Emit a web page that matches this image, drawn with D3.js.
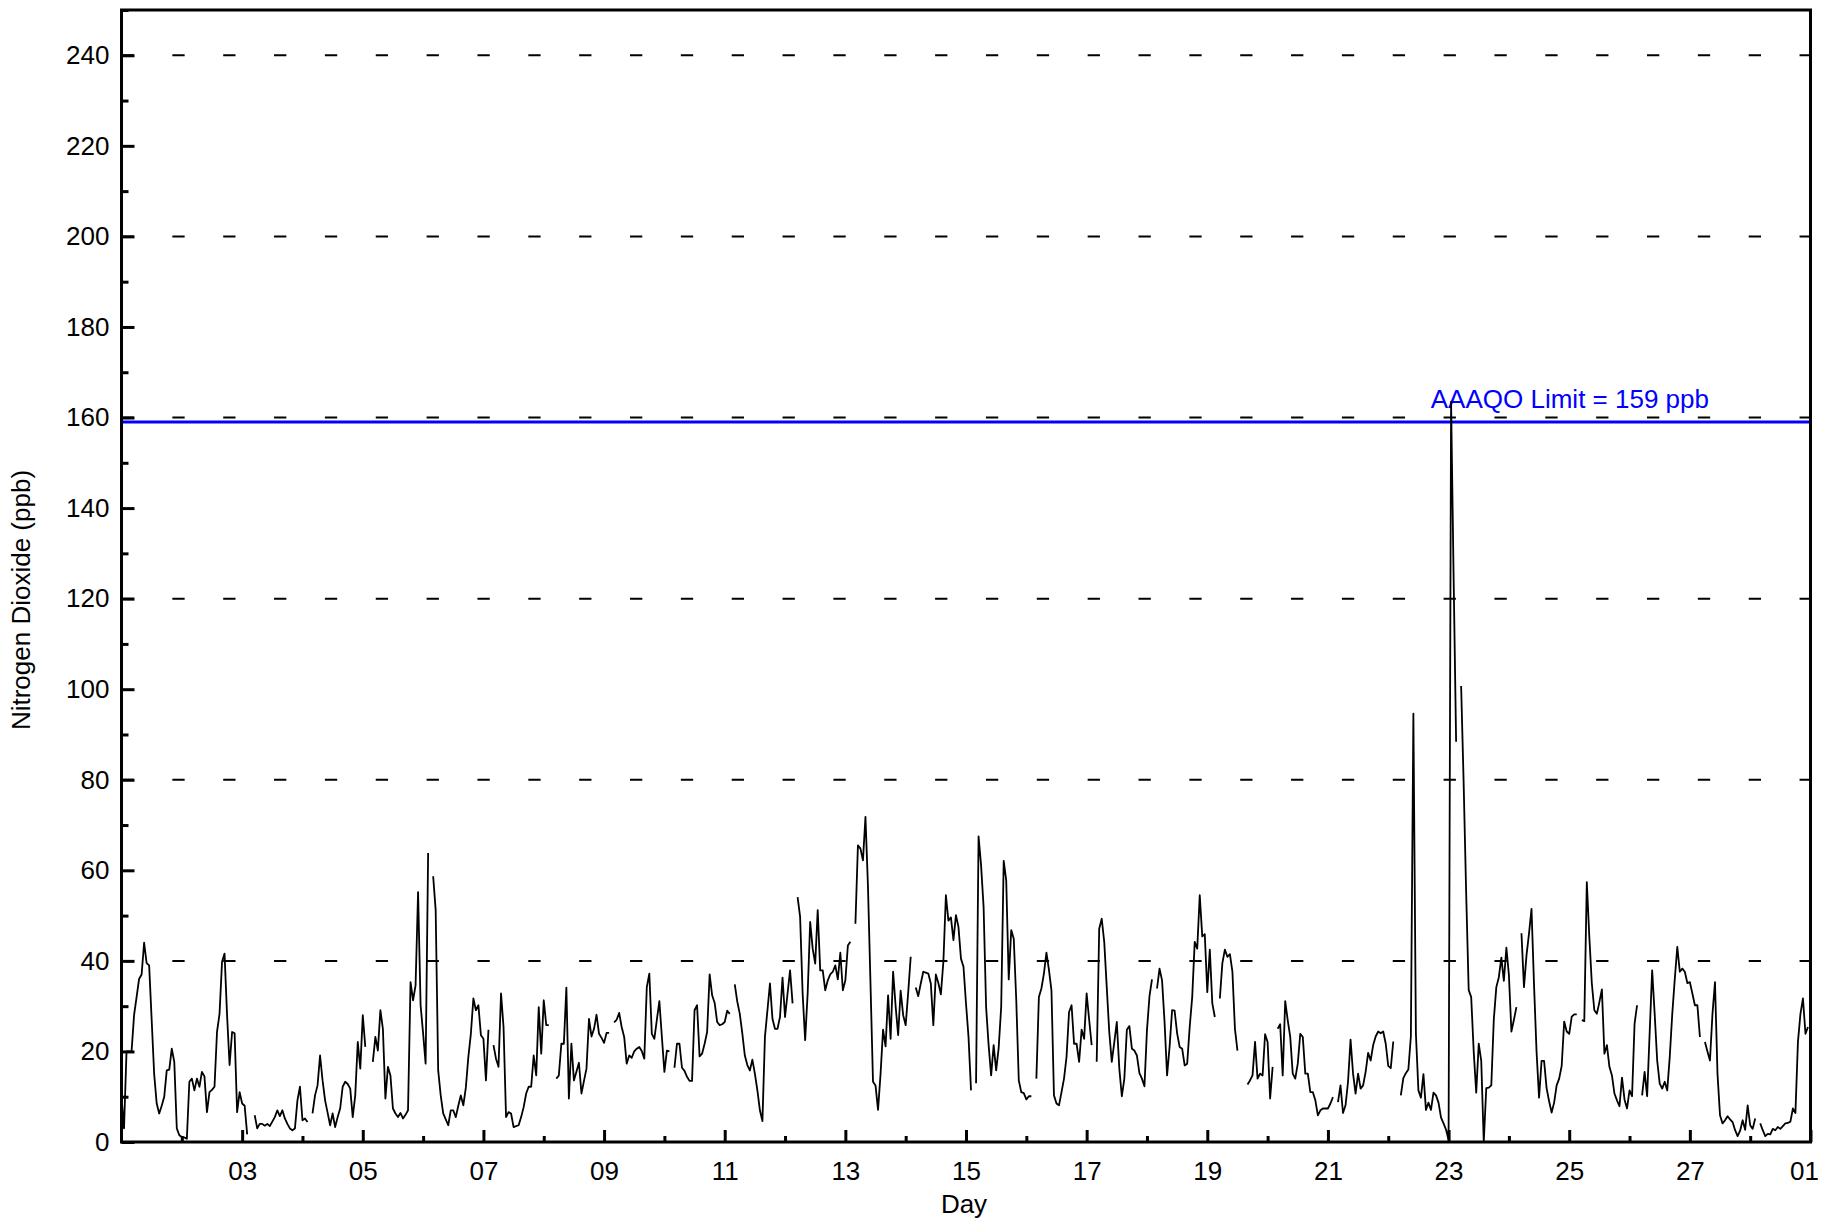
<!DOCTYPE html>
<html>
<head>
<meta charset="utf-8">
<script src="https://cdn.jsdelivr.net/npm/d3@7"></script>
<style>
  html, body { margin: 0; padding: 0; background: #ffffff; }
  svg { display: block; }
  text { font-family: "Liberation Sans", Arial, sans-serif; fill: #000; }
</style>
</head>
<body>
<svg id="chart" width="1821" height="1218"></svg>
<script>
// ---------------- DATA (hourly NO2, ppb; null = missing) ----------------
const startDate = Date.UTC(2019, 1, 1, 0);   // 01 Feb 00:00
const endDate   = Date.UTC(2019, 2, 1, 0);   // 01 Mar 00:00

const no2Week1 = [
  // Day 01
  10, 3, 20, 20, 20, 28, 32, 36, 37, 44, 39.5, 39, 27, 15, 8.5, 6.3, 8, 10, 15.8, 16, 20.6, 17.7, 3, 1.5,
  // Day 02
  1.1, 1, 0.7, 13.3, 14, 11.4, 14, 12.2, 15.5, 14.5, 6.6, 11, 11.5, 12.2, 24.3, 28.3, 39.8, 41.6, 28, 17, 24.3, 24, 6.6, 11,
  // Day 03
  8.5, 8, 1.7, null, null, 5.9, 3, 4, 4, 3.6, 4, 3.5, 4.5, 5.5, 7, 5.7, 7, 5.2, 4, 3, 2.6, 3, 9.2, 12.2,
  // Day 04
  4.8, 5.2, 4.4, null, 6.3, 10.3, 12.5, 19.1, 13.6, 9.2, 6.5, 3.7, 6.3, 3.3, 5.5, 7.4, 12.2, 13.3, 12.8, 11.8, 5.5, 10.3, 22.1, 16.2,
  // Day 05
  28, 21, null, null, 17.7, 23.2, 20.2, 29.1, 25, 9.6, 16.6, 14.7, 7.4, 6.3, 5.5, 6.4, 5.2, 6, 7, 35.3, 31.3, 34.6, 55.2, 30.2,
  // Day 06
  24, 17.3, 63.8, null, 58.7, 51.2, 15.8, 10.3, 6.3, 5, 3.7, 7, 7, 5.5, 8, 10.3, 8.1, 12, 18.8, 23.9, 31.7, 29.1, 30.2, 23.6,
  // Day 07
  22.8, 13.6, 24.8, null, 21.4, 18.4, 16.6, 32.8, 25.4, 5.5, 6.6, 6.3, 3.3, 3.5, 3.7, 5.5, 7.7, 10.7, 12.2, 12.2, 19.1, 14.7, 29.8, 19.5
];
const no2Week2 = [
  // Day 08
  31.3, 25.8, 25.8, null, null, 14, 14.7, 21.7, 21.7, 34.1, 9.6, 21.7, 13.6, 15.5, 17.5, 10.7, 13.5, 16.2, 27.2, 23.3, 25, 28.1, 23.9, 23,
  // Day 09
  21.9, 24.1, 24.1, null, 26.4, 27, 28.5, 25.4, 23.2, 17.3, 19.1, 18.6, 20, 20.6, 21, 20.1, 18.4, 34.2, 37.2, 23.9, 22.8, 27, 31.1, 23.2,
  // Day 10
  15.5, 20.2, 20, null, 16.4, 21.7, 21.7, 16.4, 15.7, 14.4, 13.5, 13.5, 29.1, 30.2, 18.9, 19.5, 21.7, 24.3, 37, 32.4, 30.7, 26.5, 25.8, 26,
  // Day 11
  26.5, 29, 28.3, null, 34.8, 31, 28.3, 24, 19.1, 17, 15.8, 18.2, 15.1, 11.4, 7, 4.6, 23.2, 29.1, 35, 27.2, 25, 25, 27.6, 36.3,
  // Day 12
  27.6, 32.8, 37.9, 30.6, null, 54.1, 49.7, 32.8, 22.5, 32.8, 48.6, 42.7, 39.4, 51.2, 37.9, 37.9, 33.5, 35.7, 37, 37.6, 39, 35.9, 41.8, 33.5,
  // Day 13
  35.7, 43.4, 44.2, null, 48.2, 65.5, 64.8, 62.2, 71.8, 56.3, 35, 13.3, 12.5, 7.1, 15, 24.8, 21.1, 32.4, 22.8, 37.6, 30, 23.6, 33.4, 28,
  // Day 14
  25.8, 33, 40.9, null, 34.1, 32.2, 35, 37.6, 37.4, 37.2, 35, 25.8, 37, 35.1, 32.6, 39.8, 54.5, 48.9, 49.6, 44.6, 50.1, 47.5, 40.5, 38.7
];
const no2Week3 = [
  // Day 15
  30.6, 23.2, 11.4, null, 13, 67.5, 61.1, 51.9, 29.8, 21.4, 14.7, 21.4, 15.8, 20.8, 29.8, 62.1, 57.8, 35.9, 46.8, 44.9, 31.3, 13.6, 11, 10.8,
  // Day 16
  9.4, 10.1, 10.1, null, 14, 32, 33.9, 37.2, 41.8, 38, 33.5, 10.3, 8.5, 8.1, 11, 14, 18.8, 28.7, 30.2, 21.7, 21.7, 17.7, 24.8, 22.8,
  // Day 17
  32.8, 27, 21.4, null, 17.7, 47.1, 49.3, 44.2, 34.2, 24.3, 17.7, 22, 26.5, 16.2, 10.1, 14, 24.8, 25.6, 20.6, 20.2, 19.1, 15.2, 14, 12.3,
  // Day 18
  24.7, 32.2, 35.9, null, 33.9, 38.3, 35.7, 26.5, 14.7, 21, 29.1, 29, 24, 21, 20.6, 16.9, 17.3, 25.4, 32, 44.2, 42.7, 54.5, 45.4, 45.9,
  // Day 19
  33.1, 42.5, 30.6, 27.6, null, 31.7, 39.5, 42.5, 40.9, 41.5, 37.6, 25, 20.2, null, null, null, 12.7, 13.6, 14.7, 22.1, 14, 15.1, 14.7, 23.8,
  // Day 20
  22.1, 9.6, 16.6, null, 25, 26, 14.7, 31.1, 26.9, 23.2, 15.1, 14, 17.3, 23.9, 23.2, 15.1, 15.1, 11, 11, 9.2, 5.9, 7, 7.4, 7.4,
  // Day 21
  7.4, 8.5, 9.9, null, 8.8, 12.5, 6.4, 8.1, 13.3, 22.6, 15.1, 10.7, 15.1, 11.8, 12.5, 15.5, 19.7, 18, 21.4, 23.3, 24.4, 24, 24.4, 21.7
];
const no2Week4 = [
  // Day 22
  16.8, 16.3, 22.2, null, null, 10.3, 14.1, 15.2, 16, 23.3, 94.6, 23.9, 11.4, 9.8, 15, 7.1, 8.7, 7.1, 10.9, 10.3, 8.7, 5.4, 4.1, 2.7,
  // Day 23
  0.5, 163.5, 125, 88.4, null, 100.7, 79.2, 55, 33.6, 32, 20, 10.9, 21.7, 17.9, 0, 11.9, 12, 12.5, 27.1, 34.2, 36.4, 40.7, 35.6, 42.9,
  // Day 24
  36.9, 24.4, 27, 29.8, null, 46.1, 34.2, 41.2, 46, 51.5, 34.7, 20, 9.8, 17.9, 17.9, 11.9, 9, 6.5, 8.7, 12.5, 14, 16.8, 26.6, 24.4,
  // Day 25
  23.9, 27.7, 28.2, 28.2, null, 26.9, 26.7, 57.4, 45.3, 35, 29.1, 28.3, 30.9, 33.7, 19.5, 21.4, 16.6, 14.7, 10.7, 9.2, 7.9, 14.2, 9.4, 7.4,
  // Day 26
  11.4, 10.1, 26.1, 30.2, null, 10.3, 15.5, 10.1, 24, 37.9, 28.3, 18, 12.9, 11.8, 13.3, 11.4, 18.8, 28.3, 36, 43.1, 37.6, 38.3, 37.6, 35.1,
  // Day 27
  35.3, 32.8, 30.2, 30.2, 23.2, null, 22.1, 20, 18, 28.3, 35.3, 15, 5.9, 4.1, 4.8, 5.7, 5, 4.4, 2.6, 1.3, 2.5, 4.8, 2.7, 8.1,
  // Day 28
  3.7, 2.9, 5.2, null, 4.1, 2.6, 1.3, 1.8, 1.7, 2.9, 2.6, 3.3, 2.9, 3.5, 4.1, 4.2, 4.5, 7.4, 6.4, 22.1, 28.3, 31.7, 23.9, 25.4
];

const yMajorTicks = [0, 20, 40, 60, 80, 100, 120, 140, 160, 180, 200, 220, 240];
const yMinorTicks = [10, 30, 50, 70, 90, 110, 130, 150, 170, 190, 210, 230, 250];
const gridValues  = [40, 80, 120, 160, 200, 240];
const xTickLabels = ["03", "05", "07", "09", "11", "13", "15", "17", "19", "21", "23", "25", "27", "01"];
const limitValue  = 159;
const limitLabel  = "AAAQO Limit = 159 ppb";
const yTitle = "Nitrogen Dioxide (ppb)";
const xTitle = "Day";

// ---------------- LAYOUT ----------------
const plotL = 121.5, plotR = 1810.5, plotT = 10, plotB = 1142;
const FS = 26;

const svg = d3.select("#chart");

const hourMs = 3600 * 1000;
const dayMs = 24 * hourMs;
const values = [].concat(no2Week1, no2Week2, no2Week3, no2Week4);
const series = values.map((v, i) => ({ t: new Date(startDate + i * hourMs), v }));

const x = d3.scaleUtc().domain([new Date(startDate), new Date(endDate)]).range([plotL, plotR]);
const y = d3.scaleLinear().domain([0, 250]).range([plotB, plotT]);

const majorDates = xTickLabels.map((_, i) => new Date(startDate + (2 + 2 * i) * dayMs));
const minorDates = d3.range(1, 28, 2).map(d => new Date(startDate + d * dayMs));

// grid lines (dashed)
svg.append("g").selectAll("line").data(gridValues).join("line")
  .attr("x1", plotL).attr("x2", plotR)
  .attr("y1", d => y(d)).attr("y2", d => y(d))
  .attr("stroke", "#000").attr("stroke-width", 2)
  .attr("stroke-dasharray", "12.3,38.55");

// limit line
svg.append("line")
  .attr("x1", plotL).attr("x2", plotR)
  .attr("y1", y(limitValue)).attr("y2", y(limitValue))
  .attr("stroke", "#0000ff").attr("stroke-width", 3);
svg.append("text")
  .attr("x", 1709).attr("y", y(limitValue) - 14)
  .attr("text-anchor", "end")
  .style("font-size", FS + "px")
  .style("fill", "#0000ff")
  .text(limitLabel);

// data line
const line = d3.line()
  .defined(d => d.v !== null)
  .x(d => x(d.t))
  .y(d => y(d.v));
svg.append("path")
  .datum(series)
  .attr("fill", "none")
  .attr("stroke", "#000")
  .attr("stroke-width", 1.8)
  .attr("stroke-linejoin", "round")
  .attr("d", line);

// axes
const yAxisMajor = d3.axisLeft(y).tickValues(yMajorTicks).tickSize(-13).tickPadding(12).tickFormat(d3.format("d"));
const yAxisMinor = d3.axisLeft(y).tickValues(yMinorTicks).tickSize(-7).tickFormat("");
const xAxisMajor = d3.axisBottom(x).tickValues(majorDates).tickSize(-12).tickPadding(20)
  .tickFormat((d, i) => xTickLabels[i]);
const xAxisMinor = d3.axisBottom(x).tickValues(minorDates).tickSize(-6).tickFormat("");

function styleAxis(g) {
  g.select(".domain").remove();
  g.selectAll(".tick line").attr("stroke", "#000").attr("stroke-width", 3);
  g.selectAll(".tick text").style("font-size", FS + "px").style("font-family", '"Liberation Sans", Arial, sans-serif').attr("fill", "#000");
}
svg.append("g").attr("transform", `translate(${plotL},0)`).call(yAxisMajor).call(styleAxis);
svg.append("g").attr("transform", `translate(${plotL},0)`).call(yAxisMinor).call(styleAxis);
const gx = svg.append("g").attr("transform", `translate(0,${plotB})`).call(xAxisMajor).call(styleAxis);
svg.append("g").attr("transform", `translate(0,${plotB})`).call(xAxisMinor).call(styleAxis);
// keep the last label ("01") inside the picture
gx.selectAll(".tick text").filter((d, i) => i === xTickLabels.length - 1)
  .attr("text-anchor", "end").attr("x", 8);

// frame
svg.append("rect")
  .attr("x", plotL).attr("y", plotT)
  .attr("width", plotR - plotL).attr("height", plotB - plotT)
  .attr("fill", "none").attr("stroke", "#000").attr("stroke-width", 3);

// titles
svg.append("text")
  .attr("x", (plotL + plotR) / 2 - 2).attr("y", 1213)
  .attr("text-anchor", "middle")
  .style("font-size", FS + "px")
  .text(xTitle);
svg.append("text")
  .attr("transform", `translate(29.5,600) rotate(-90)`)
  .attr("text-anchor", "middle")
  .style("font-size", FS + "px")
  .text(yTitle);
</script>
</body>
</html>
